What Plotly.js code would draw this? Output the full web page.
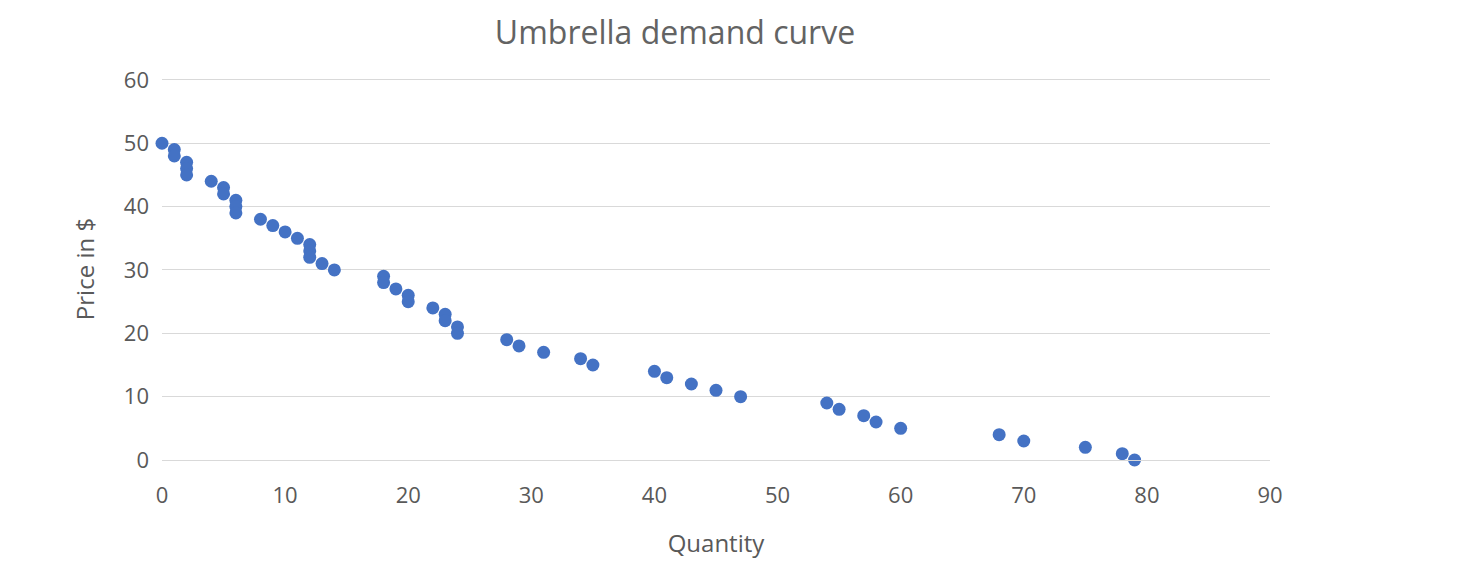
<!DOCTYPE html>
<html>
<head>
<meta charset="utf-8">
<script src="https://cdn.plot.ly/plotly-3.0.1.min.js"></script>
<style>html,body{margin:0;padding:0;background:#fff;}#chart{width:1470px;height:582px;}</style>
</head>
<body>
<div id="chart"></div>
<script>
const quantity = [0,1,1,2,2,2,4,5,5,6,6,6,8,9,10,11,12,12,12,13,14,18,18,19,20,20,22,23,23,24,24,28,29,31,34,35,40,41,43,45,47,54,55,57,58,60,68,70,75,78,79];
const price = [50,49,48,47,46,45,44,43,42,41,40,39,38,37,36,35,34,33,32,31,30,29,28,27,26,25,24,23,22,21,20,19,18,17,16,15,14,13,12,11,10,9,8,7,6,5,4,3,2,1,0];
const xTicks = [0,10,20,30,40,50,60,70,80,90];
const yTicks = [0,10,20,30,40,50,60];

const font = "'Open Sans', 'Noto Sans', sans-serif";
const grey = '#595959';

Plotly.newPlot('chart', [{
  x: quantity, y: price, type: 'scatter', mode: 'markers', cliponaxis: false,
  marker: {color: '#4472c4', size: 13}, hoverinfo: 'x+y'
}], {
  width: 1470, height: 582,
  margin: {l: 162, r: 200, t: 78, b: 122},
  paper_bgcolor: '#fff', plot_bgcolor: '#fff',
  showlegend: false,
  title: {text: 'Umbrella demand curve', x: 0.463, xref: 'paper', xanchor: 'center', y: 0.943, yanchor: 'middle', font: {family: font, size: 32, color: '#636363'}},
  xaxis: {
    range: [0, 90], tickvals: xTicks, ticktext: xTicks.map(String),
    showgrid: false, zeroline: false, showline: true, linecolor: '#d9d9d9', linewidth: 1,
    ticks: '', ticklabelstandoff: 16, tickfont: {family: font, size: 22, color: grey},
    title: {text: 'Quantity', font: {family: font, size: 24, color: grey}, standoff: 26}
  },
  yaxis: {
    range: [0, 60.3], tickvals: yTicks, ticktext: yTicks.map(String),
    showgrid: true, gridcolor: '#d9d9d9', gridwidth: 1, zeroline: false,
    ticks: '', ticklabelstandoff: 12, tickfont: {family: font, size: 22, color: grey},
    title: {text: 'Price in $', font: {family: font, size: 24, color: grey}, standoff: 22}
  }
}, {displayModeBar: false, staticPlot: true});
</script>
</body>
</html>
